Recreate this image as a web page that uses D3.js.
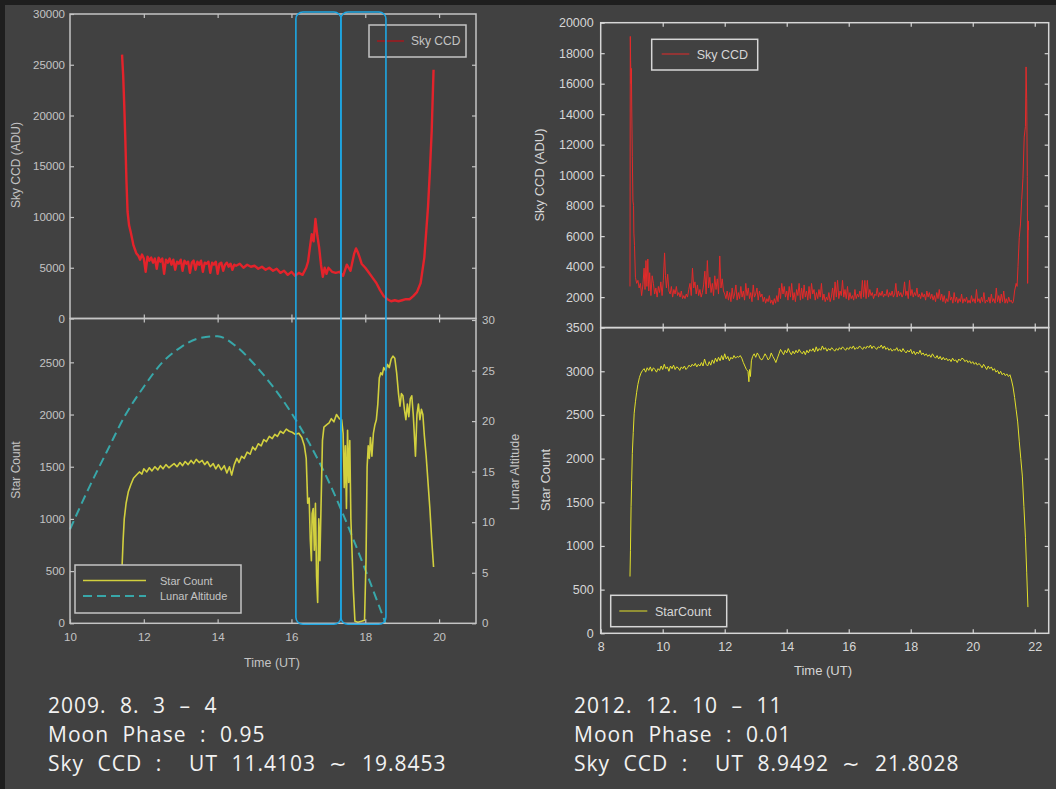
<!DOCTYPE html>
<html><head><meta charset="utf-8">
<script src="https://cdn.jsdelivr.net/npm/d3@7"></script>
<style>html,body{margin:0;padding:0;background:#414141;}svg{display:block;}</style>
</head><body>
<script>
// ---------------- DATA ----------------
// Left chart (2009.8.3-4)
const leftSkyCCD = [[11.41,26000],[11.44,24000],[11.47,21000],[11.50,17500],[11.53,13500],[11.56,10500],[11.60,9200],[11.64,8600],[11.68,7900],[11.72,7200],[11.76,6800],[11.80,6400],[11.85,6200],[11.90,5800],[11.95,6300],[12.00,5900],[12.05,4600],[12.10,6100],[12.15,5700],[12.20,6000],[12.25,5500],[12.30,5900],[12.35,4900],[12.40,6000],[12.45,5600],[12.50,5900],[12.55,4400],[12.60,5800],[12.65,5500],[12.70,5900],[12.75,5300],[12.80,5800],[12.85,4800],[12.90,5600],[12.95,5400],[13.00,5800],[13.05,4700],[13.10,5700],[13.15,5400],[13.20,5600],[13.25,4500],[13.30,5500],[13.35,5700],[13.40,4800],[13.45,5600],[13.50,5300],[13.55,5700],[13.60,4600],[13.65,5500],[13.70,5400],[13.75,5600],[13.80,4500],[13.85,5500],[13.90,5300],[13.95,5600],[14.00,4400],[14.05,5400],[14.10,5500],[14.15,4700],[14.20,5300],[14.25,5500],[14.30,5100],[14.35,5400],[14.40,4800],[14.45,5300],[14.50,5200],[14.60,5400],[14.70,5000],[14.80,5300],[14.90,5100],[15.00,5200],[15.10,4900],[15.20,5100],[15.30,4800],[15.40,5000],[15.50,4700],[15.60,4900],[15.70,4500],[15.80,4700],[15.90,4300],[16.00,4600],[16.10,4200],[16.20,4500],[16.30,4300],[16.40,5000],[16.45,5600],[16.50,7000],[16.55,8300],[16.60,7600],[16.65,9800],[16.70,8200],[16.75,7000],[16.80,5300],[16.85,4100],[16.90,5000],[16.95,4400],[17.00,5000],[17.10,4600],[17.20,4500],[17.30,4600],[17.40,4200],[17.50,5300],[17.60,4700],[17.70,6400],[17.75,6900],[17.80,6500],[17.85,6000],[17.90,5400],[18.00,5000],[18.10,4500],[18.20,4000],[18.30,3500],[18.40,2800],[18.50,2200],[18.60,1900],[18.70,1700],[18.80,1800],[18.90,1700],[19.00,1800],[19.10,1900],[19.20,1900],[19.30,2200],[19.40,2600],[19.50,3500],[19.60,6000],[19.70,11000],[19.75,14500],[19.80,18500],[19.85,24500]];

const leftStarCount = [[11.41,540],[11.44,800],[11.47,1000],[11.52,1150],[11.58,1260],[11.65,1330],[11.72,1390],[11.80,1420],[11.88,1450],[11.95,1430],[12.00,1480],[12.08,1450],[12.15,1490],[12.22,1460],[12.30,1500],[12.38,1470],[12.45,1510],[12.52,1480],[12.60,1520],[12.68,1490],[12.75,1510],[12.82,1530],[12.90,1500],[12.98,1540],[13.05,1510],[13.12,1550],[13.20,1520],[13.28,1560],[13.35,1530],[13.42,1570],[13.50,1540],[13.58,1560],[13.65,1520],[13.72,1550],[13.80,1500],[13.88,1530],[13.95,1480],[14.02,1520],[14.10,1470],[14.18,1510],[14.25,1440],[14.32,1500],[14.38,1420],[14.45,1520],[14.52,1580],[14.58,1540],[14.65,1600],[14.72,1580],[14.80,1640],[14.88,1620],[14.95,1690],[15.02,1660],[15.10,1720],[15.18,1700],[15.25,1760],[15.32,1740],[15.40,1790],[15.48,1770],[15.55,1810],[15.62,1790],[15.70,1840],[15.78,1820],[15.86,1860],[15.94,1840],[16.02,1830],[16.10,1810],[16.20,1820],[16.28,1780],[16.35,1700],[16.40,1580],[16.44,1150],[16.48,1200],[16.51,800],[16.54,600],[16.56,1050],[16.59,1100],[16.62,700],[16.65,1150],[16.68,450],[16.71,200],[16.74,1000],[16.77,600],[16.80,1100],[16.84,1750],[16.88,1880],[16.95,1900],[17.02,1920],[17.08,1960],[17.15,1930],[17.22,2000],[17.30,1960],[17.36,1950],[17.40,1820],[17.43,1300],[17.46,1700],[17.49,1100],[17.52,1850],[17.55,1350],[17.58,1750],[17.61,1000],[17.64,700],[17.68,300],[17.72,20],[17.80,10],[17.90,20],[17.98,30],[18.02,600],[18.05,1500],[18.08,1700],[18.11,1580],[18.14,1780],[18.18,1600],[18.22,1820],[18.26,1900],[18.30,1950],[18.34,2100],[18.38,2350],[18.42,2400],[18.46,2380],[18.50,2450],[18.55,2420],[18.60,2480],[18.65,2450],[18.70,2530],[18.75,2560],[18.80,2540],[18.85,2400],[18.90,2200],[18.94,2080],[18.98,2200],[19.02,2180],[19.06,2050],[19.10,1950],[19.14,2100],[19.18,1980],[19.22,2150],[19.26,2180],[19.30,2000],[19.33,1800],[19.36,1600],[19.40,2000],[19.44,2100],[19.48,1950],[19.52,2050],[19.56,2000],[19.60,1800],[19.65,1600],[19.70,1350],[19.75,1100],[19.80,800],[19.85,540]];

const lunarAltitude = [[10.0,9.3],[10.5,13.3],[11.0,17.0],[11.5,20.6],[12.0,23.4],[12.5,25.8],[13.0,27.3],[13.5,28.2],[14.0,28.4],[14.5,27.4],[15.0,25.6],[15.5,23.4],[16.0,20.8],[16.5,17.7],[17.0,14.1],[17.5,9.9],[18.0,5.3],[18.55,0]];

const highlightWindows = [[16.12,17.34],[17.34,18.56]];

// Right chart (2012.12.10-11)
const rightSkyCCD = [[8.945,2700],[8.955,19100],[8.965,17500],[8.98,16000],[8.99,17000],[9.00,14600],[9.02,11200],[9.04,8300],[9.06,8000],[9.07,6200],[9.09,5400],[9.12,3300],[9.16,2900],[9.20,3100],[9.24,2600],[9.28,2900],[9.32,2100],[9.36,2800],[9.40,3900],[9.43,2500],[9.46,4400],[9.49,2700],[9.52,4500],[9.55,2400],[9.58,3600],[9.62,2100],[9.66,3400],[9.70,2900],[9.74,2200],[9.78,2600],[9.82,2000],[9.86,2700],[9.90,2300],[9.94,3000],[9.98,2100],[10.02,3100],[10.06,4900],[10.09,3400],[10.12,2600],[10.16,3500],[10.20,2400],[10.24,2200],[10.28,2700],[10.32,2000],[10.36,2500],[10.40,2200],[10.44,2700],[10.48,2100],[10.52,2300],[10.56,2000],[10.60,2400],[10.64,1900],[10.68,2100],[10.72,1900],[10.76,2200],[10.80,2000],[10.84,2500],[10.88,2900],[10.92,2100],[10.96,3900],[11.00,2600],[11.04,3000],[11.08,2200],[11.12,2800],[11.16,2100],[11.20,2500],[11.24,2000],[11.28,2300],[11.32,2800],[11.36,3700],[11.40,2200],[11.44,4400],[11.48,2600],[11.52,3300],[11.56,2300],[11.60,2900],[11.64,2100],[11.68,3400],[11.72,2500],[11.76,3200],[11.80,2200],[11.84,4700],[11.88,2600],[11.92,3200],[11.96,2400],[12.00,2200],[12.04,1900],[12.08,2400],[12.12,1800],[12.16,2300],[12.20,1700],[12.24,2600],[12.28,1900],[12.32,2200],[12.36,2800],[12.40,1800],[12.44,2300],[12.48,1900],[12.52,2700],[12.56,2000],[12.60,2400],[12.64,1800],[12.68,2900],[12.72,2100],[12.76,2600],[12.80,1900],[12.84,2300],[12.88,1700],[12.92,2800],[12.96,2000],[13.00,2200],[13.04,2600],[13.08,1800],[13.12,2400],[13.16,2000],[13.20,2200],[13.24,1700],[13.28,2000],[13.32,1600],[13.36,1900],[13.40,1700],[13.44,2100],[13.48,1600],[13.52,1800],[13.56,1500],[13.60,1900],[13.64,1600],[13.68,2100],[13.72,1700],[13.76,2600],[13.80,1900],[13.84,2900],[13.88,2200],[13.92,2700],[13.96,2000],[14.00,2400],[14.04,1800],[14.08,2700],[14.12,2000],[14.16,2900],[14.20,1800],[14.24,2300],[14.28,1700],[14.32,2500],[14.36,2100],[14.40,2900],[14.44,1800],[14.48,2600],[14.52,1900],[14.56,2800],[14.60,2000],[14.64,2400],[14.68,1800],[14.72,2700],[14.76,1900],[14.80,2900],[14.84,2200],[14.88,2500],[14.92,1800],[14.96,2300],[15.00,1900],[15.04,2500],[15.08,2000],[15.12,2900],[15.16,1800],[15.20,2200],[15.24,1700],[15.28,2000],[15.32,1800],[15.36,2300],[15.40,1700],[15.44,2000],[15.48,2600],[15.52,1800],[15.56,3000],[15.60,2000],[15.64,3100],[15.68,1900],[15.72,2400],[15.76,2100],[15.80,3100],[15.84,2000],[15.88,2500],[15.92,1900],[15.96,2700],[16.00,1800],[16.04,2300],[16.08,1900],[16.12,2100],[16.16,1800],[16.20,2500],[16.24,1900],[16.28,2200],[16.32,2000],[16.36,2400],[16.40,1900],[16.44,3100],[16.48,2000],[16.52,3100],[16.56,1900],[16.60,3100],[16.64,2000],[16.68,2500],[16.72,2100],[16.76,2300],[16.80,1900],[16.84,2200],[16.88,2100],[16.92,2600],[16.96,2000],[17.00,2300],[17.04,2100],[17.08,2400],[17.12,2000],[17.16,2200],[17.20,2100],[17.24,2500],[17.28,2000],[17.32,2300],[17.36,2100],[17.40,2400],[17.44,2000],[17.48,2200],[17.52,2900],[17.56,2000],[17.60,2400],[17.64,2100],[17.68,2300],[17.72,2000],[17.76,2200],[17.80,3000],[17.84,2100],[17.88,2400],[17.92,1900],[17.96,3100],[18.00,2100],[18.04,2500],[18.08,2000],[18.12,2300],[18.16,2100],[18.20,2600],[18.24,2000],[18.28,2200],[18.32,1900],[18.36,2300],[18.40,2000],[18.44,2200],[18.48,1800],[18.52,2400],[18.56,2000],[18.60,2300],[18.64,1900],[18.68,2200],[18.72,1800],[18.76,2100],[18.80,1700],[18.84,2300],[18.88,1900],[18.92,2500],[18.96,1800],[19.00,2200],[19.04,1700],[19.08,2100],[19.12,1600],[19.16,1900],[19.20,1700],[19.24,2400],[19.28,1800],[19.32,2000],[19.36,1600],[19.40,2300],[19.44,1700],[19.48,2000],[19.52,1600],[19.56,1900],[19.60,1700],[19.64,2200],[19.68,1600],[19.72,1900],[19.76,1700],[19.80,2000],[19.84,1600],[19.88,1800],[19.92,1600],[19.96,2100],[20.00,1700],[20.04,1900],[20.08,1600],[20.12,2500],[20.16,1700],[20.20,1900],[20.24,1600],[20.28,2000],[20.32,1700],[20.36,2300],[20.40,1600],[20.44,1800],[20.48,1700],[20.52,2000],[20.56,1600],[20.60,2200],[20.64,1700],[20.68,1900],[20.72,1600],[20.76,2600],[20.80,1700],[20.84,2100],[20.88,1600],[20.92,2200],[20.96,1700],[21.00,2400],[21.04,1600],[21.08,1900],[21.12,1600],[21.16,2000],[21.20,1700],[21.24,1800],[21.28,1600],[21.31,1700],[21.35,2400],[21.40,2900],[21.43,2700],[21.46,4000],[21.50,5900],[21.54,6800],[21.58,8400],[21.62,9800],[21.66,12500],[21.70,13200],[21.72,17100],[21.74,15000],[21.76,9900],[21.77,2900],[21.79,7000],[21.80,6400]];

const rightStarCount = [[8.945,650],[8.96,950],[8.98,1450],[9.00,1750],[9.02,2060],[9.05,2300],[9.08,2520],[9.12,2650],[9.16,2760],[9.20,2850],[9.25,2930],[9.30,2980],[9.35,3010],[9.40,3030],[9.45,2990],[9.50,3040],[9.55,3010],[9.60,3050],[9.65,3000],[9.70,3040],[9.75,3020],[9.80,2990],[9.85,3030],[9.90,3010],[9.95,3060],[10.00,3020],[10.05,3080],[10.10,3030],[10.15,3050],[10.20,3000],[10.25,3060],[10.30,3030],[10.35,3070],[10.40,3020],[10.45,3050],[10.50,3040],[10.55,3010],[10.60,3050],[10.65,3030],[10.70,3060],[10.75,3020],[10.80,3040],[10.85,3070],[10.90,3050],[10.95,3080],[11.00,3060],[11.05,3090],[11.10,3050],[11.15,3080],[11.20,3060],[11.25,3100],[11.30,3060],[11.35,3140],[11.40,3080],[11.45,3060],[11.50,3110],[11.55,3070],[11.60,3130],[11.65,3090],[11.70,3150],[11.75,3110],[11.80,3160],[11.85,3120],[11.90,3180],[11.95,3130],[12.00,3200],[12.05,3140],[12.10,3170],[12.15,3120],[12.20,3160],[12.25,3140],[12.30,3180],[12.35,3150],[12.40,3170],[12.45,3160],[12.50,3180],[12.55,3150],[12.60,3100],[12.65,3060],[12.70,3020],[12.75,3000],[12.78,2880],[12.80,3020],[12.83,2940],[12.86,3120],[12.90,3170],[12.95,3200],[13.00,3160],[13.05,3210],[13.10,3180],[13.15,3140],[13.20,3130],[13.25,3160],[13.30,3200],[13.35,3170],[13.40,3130],[13.45,3150],[13.50,3210],[13.55,3170],[13.60,3140],[13.65,3100],[13.70,3150],[13.75,3200],[13.80,3250],[13.85,3220],[13.90,3190],[13.95,3240],[14.00,3210],[14.05,3260],[14.10,3220],[14.15,3190],[14.20,3230],[14.25,3200],[14.30,3240],[14.35,3210],[14.40,3250],[14.45,3220],[14.50,3200],[14.55,3230],[14.60,3190],[14.65,3240],[14.70,3210],[14.75,3250],[14.80,3230],[14.85,3260],[14.90,3220],[14.95,3280],[15.00,3230],[15.05,3260],[15.10,3240],[15.15,3290],[15.20,3250],[15.25,3270],[15.30,3230],[15.35,3260],[15.40,3240],[15.45,3270],[15.50,3250],[15.55,3230],[15.60,3260],[15.65,3240],[15.70,3270],[15.75,3250],[15.80,3280],[15.85,3260],[15.90,3240],[15.95,3270],[16.00,3250],[16.05,3280],[16.10,3260],[16.15,3290],[16.20,3250],[16.25,3270],[16.30,3260],[16.35,3290],[16.40,3270],[16.45,3250],[16.50,3280],[16.55,3260],[16.60,3290],[16.65,3270],[16.70,3300],[16.75,3260],[16.80,3290],[16.85,3270],[16.90,3250],[16.95,3280],[17.00,3270],[17.05,3300],[17.10,3260],[17.15,3290],[17.20,3250],[17.25,3270],[17.30,3240],[17.35,3260],[17.40,3230],[17.45,3250],[17.50,3240],[17.55,3270],[17.60,3230],[17.65,3250],[17.70,3220],[17.75,3260],[17.80,3230],[17.85,3210],[17.90,3240],[17.95,3220],[18.00,3250],[18.05,3200],[18.10,3230],[18.15,3190],[18.20,3220],[18.25,3200],[18.30,3240],[18.35,3190],[18.40,3210],[18.45,3180],[18.50,3200],[18.55,3170],[18.60,3190],[18.65,3160],[18.70,3200],[18.75,3170],[18.80,3150],[18.85,3180],[18.90,3140],[18.95,3170],[19.00,3130],[19.05,3160],[19.10,3130],[19.15,3150],[19.20,3120],[19.25,3140],[19.30,3110],[19.35,3150],[19.40,3120],[19.45,3130],[19.50,3100],[19.55,3140],[19.60,3120],[19.65,3150],[19.70,3140],[19.75,3110],[19.80,3130],[19.85,3100],[19.90,3120],[19.95,3090],[20.00,3110],[20.05,3080],[20.10,3100],[20.15,3070],[20.20,3090],[20.25,3070],[20.30,3040],[20.35,3080],[20.40,3050],[20.45,3020],[20.50,3060],[20.55,3030],[20.60,3050],[20.65,3010],[20.70,3030],[20.75,2990],[20.80,3010],[20.85,2970],[20.90,3000],[20.95,2960],[21.00,2980],[21.05,2950],[21.10,2970],[21.15,2940],[21.20,2960],[21.25,2900],[21.30,2820],[21.35,2700],[21.40,2560],[21.45,2420],[21.50,2200],[21.55,2000],[21.60,1800],[21.65,1450],[21.70,1100],[21.74,700],[21.78,300]];

// Tick values
const leftXTicks = [10,12,14,16,18,20];
const leftSkyTicks = [0,5000,10000,15000,20000,25000,30000];
const leftStarTicks = [0,500,1000,1500,2000,2500];
const lunarTicks = [0,5,10,15,20,25,30];
const rightXTicks = [8,10,12,14,16,18,20,22];
const rightSkyTicks = [2000,4000,6000,8000,10000,12000,14000,16000,18000,20000];
const rightStarTicks = [0,500,1000,1500,2000,2500,3000,3500];

// Captions
const leftCaption = ["2009. 8. 3 \u2013 4", "Moon Phase : 0.95", "Sky CCD :  UT 11.4103 \u223C 19.8453"];
const rightCaption = ["2012. 12. 10 \u2013 11", "Moon Phase : 0.01", "Sky CCD :  UT 8.9492 \u223C 21.8028"];

// ---------------- DRAW ----------------
const W = 1056, H = 789;
const svg = d3.select("body").append("svg").attr("width", W).attr("height", H);
svg.append("rect").attr("width", W).attr("height", H).attr("fill", "#414141");
svg.append("rect").attr("width", W).attr("height", 5).attr("fill", "#1e1e1e");
svg.append("rect").attr("width", 5).attr("height", H).attr("fill", "#1e1e1e");

const FONT = "'Liberation Sans', Arial, sans-serif";

function styleAxis(g, color, size) {
  g.select(".domain").remove();
  g.attr("font-family", FONT).attr("font-size", size);
  g.selectAll("line").attr("stroke", color).attr("stroke-width", 1.2);
  g.selectAll("text").attr("fill", color);
}

function panelFrame(x0, x1, y0, y1, color, sw) {
  svg.append("rect").attr("x", x0).attr("y", y0).attr("width", x1 - x0).attr("height", y1 - y0)
    .attr("fill", "none").attr("stroke", color).attr("stroke-width", sw);
}

// ===== LEFT CHART =====
const L = {x0: 70, x1: 476, yTop: 14, yMid: 318.5, yBot: 623.3};
const LC = "#c4c4c4";
const xL = d3.scaleLinear().domain([10, 21]).range([L.x0, L.x1]);
const yLSky = d3.scaleLinear().domain([0, 30000]).range([L.yMid, L.yTop]);
const yLStar = d3.scaleLinear().domain([0, 2920]).range([L.yBot, L.yMid]);
const yLun = d3.scaleLinear().domain([0, 30]).range([L.yBot, L.yMid + 1.5]);

// lines
svg.append("path").datum(leftSkyCCD)
  .attr("d", d3.line().x(d => xL(d[0])).y(d => yLSky(d[1])))
  .attr("fill", "none").attr("stroke", "#e3232b").attr("stroke-width", 2.4).attr("stroke-linejoin", "round");

svg.append("path").datum(lunarAltitude)
  .attr("d", d3.line().curve(d3.curveMonotoneX).x(d => xL(d[0])).y(d => yLun(d[1])))
  .attr("fill", "none").attr("stroke", "#38a7a9").attr("stroke-width", 2).attr("stroke-dasharray", "9,5");

svg.append("path").datum(leftStarCount)
  .attr("d", d3.line().x(d => xL(d[0])).y(d => yLStar(d[1])))
  .attr("fill", "none").attr("stroke", "#d2d03e").attr("stroke-width", 1.6).attr("stroke-linejoin", "round");

// frames
panelFrame(L.x0, L.x1, L.yTop, L.yMid, LC, 1.5);
panelFrame(L.x0, L.x1, L.yMid, L.yBot, LC, 1.5);

// axes top panel
styleAxis(svg.append("g").attr("transform", `translate(${L.x0},0)`)
  .call(d3.axisLeft(yLSky).tickValues(leftSkyTicks).tickSize(-4).tickPadding(5).tickFormat(d3.format("d"))), LC, 11.5);
styleAxis(svg.append("g").attr("transform", `translate(${L.x1},0)`)
  .call(d3.axisRight(yLSky).tickValues(leftSkyTicks.slice(1, -1)).tickSize(-4).tickFormat("")), LC, 11);
styleAxis(svg.append("g").attr("transform", `translate(0,${L.yTop})`)
  .call(d3.axisTop(xL).tickValues(leftXTicks.slice(1)).tickSize(-4).tickFormat("")), LC, 11);
styleAxis(svg.append("g").attr("transform", `translate(0,${L.yMid})`)
  .call(d3.axisBottom(xL).tickValues(leftXTicks.slice(1)).tickSize(-4).tickFormat("")), LC, 11);
// axes bottom panel
styleAxis(svg.append("g").attr("transform", `translate(${L.x0},0)`)
  .call(d3.axisLeft(yLStar).tickValues(leftStarTicks).tickSize(-4).tickPadding(5).tickFormat(d3.format("d"))), LC, 11.5);
styleAxis(svg.append("g").attr("transform", `translate(${L.x1},0)`)
  .call(d3.axisRight(yLun).tickValues(lunarTicks).tickSize(-4).tickPadding(6)), LC, 11.5);
styleAxis(svg.append("g").attr("transform", `translate(0,${L.yBot})`)
  .call(d3.axisBottom(xL).tickValues(leftXTicks).tickSize(-4).tickPadding(10)), LC, 11.5);
styleAxis(svg.append("g").attr("transform", `translate(0,${L.yMid})`)
  .call(d3.axisTop(xL).tickValues(leftXTicks.slice(1)).tickSize(-4).tickFormat("")), LC, 11);

// axis titles
function vLabel(x, y, text, size, color) {
  svg.append("text").attr("transform", `translate(${x},${y}) rotate(-90)`)
    .attr("text-anchor", "middle").attr("font-family", FONT).attr("font-size", size)
    .attr("fill", color).text(text);
}
vLabel(20, 165, "Sky CCD (ADU)", 12, LC);
vLabel(20, 470, "Star Count", 12, LC);
vLabel(519, 472, "Lunar Altitude", 12.5, LC);
svg.append("text").attr("x", 272).attr("y", 667).attr("text-anchor", "middle")
  .attr("font-family", FONT).attr("font-size", 12.5).attr("fill", LC).text("Time (UT)");

// legends
svg.append("rect").attr("x", 369).attr("y", 25).attr("width", 97).attr("height", 32)
  .attr("fill", "#414141").attr("stroke", LC).attr("stroke-width", 1.5);
svg.append("line").attr("x1", 377).attr("x2", 404).attr("y1", 41).attr("y2", 41)
  .attr("stroke", "#8a2226").attr("stroke-width", 2);
svg.append("text").attr("x", 411).attr("y", 45).attr("font-family", FONT).attr("font-size", 12)
  .attr("fill", LC).text("Sky CCD");

svg.append("rect").attr("x", 75).attr("y", 565).attr("width", 166).attr("height", 48)
  .attr("fill", "#414141").attr("stroke", LC).attr("stroke-width", 1.5);
svg.append("line").attr("x1", 83).attr("x2", 146).attr("y1", 580.5).attr("y2", 580.5)
  .attr("stroke", "#d2d03e").attr("stroke-width", 1.5);
svg.append("line").attr("x1", 83).attr("x2", 146).attr("y1", 596).attr("y2", 596)
  .attr("stroke", "#38a7a9").attr("stroke-width", 2).attr("stroke-dasharray", "9,5");
svg.append("text").attr("x", 160).attr("y", 584.5).attr("font-family", FONT).attr("font-size", 11)
  .attr("fill", LC).text("Star Count");
svg.append("text").attr("x", 160).attr("y", 600).attr("font-family", FONT).attr("font-size", 11)
  .attr("fill", LC).text("Lunar Altitude");

// highlight windows
svg.selectAll("rect.win").data(highlightWindows).enter().append("rect").attr("class", "win")
  .attr("x", d => xL(d[0])).attr("width", d => xL(d[1]) - xL(d[0]))
  .attr("y", L.yTop - 2).attr("height", L.yBot - L.yTop + 3)
  .attr("rx", 7).attr("ry", 7)
  .attr("fill", "none").attr("stroke", "#1ea6e2").attr("stroke-width", 1.6);

// ===== RIGHT CHART =====
const R = {x0: 600.7, x1: 1048.7, yTop: 22.7, yMid: 327.6, yBot: 633.3};
const RC = "#d6d6d6";
const xR = d3.scaleLinear().domain([8, 22.45]).range([R.x0, R.x1]);
const yRSky = d3.scaleLinear().domain([0, 20000]).range([R.yMid, R.yTop]);
const yRStar = d3.scaleLinear().domain([0, 3500]).range([R.yBot, R.yMid]);

svg.append("path").datum(rightSkyCCD)
  .attr("d", d3.line().x(d => xR(d[0])).y(d => yRSky(d[1])))
  .attr("fill", "none").attr("stroke", "#e42a2a").attr("stroke-width", 1);
svg.append("path").datum(rightStarCount)
  .attr("d", d3.line().x(d => xR(d[0])).y(d => yRStar(d[1])))
  .attr("fill", "none").attr("stroke", "#e2e02a").attr("stroke-width", 1);

panelFrame(R.x0, R.x1, R.yTop, R.yMid, RC, 1.5);
panelFrame(R.x0, R.x1, R.yMid, R.yBot, RC, 1.5);

styleAxis(svg.append("g").attr("transform", `translate(${R.x0},0)`)
  .call(d3.axisLeft(yRSky).tickValues(rightSkyTicks).tickSize(-4).tickPadding(7).tickFormat(d3.format("d"))), RC, 12.5);
styleAxis(svg.append("g").attr("transform", `translate(${R.x1},0)`)
  .call(d3.axisRight(yRSky).tickValues(rightSkyTicks.slice(0, -1)).tickSize(-4).tickFormat("")), RC, 12);
styleAxis(svg.append("g").attr("transform", `translate(0,${R.yTop})`)
  .call(d3.axisTop(xR).tickValues(rightXTicks.slice(1)).tickSize(-4).tickFormat("")), RC, 12);
styleAxis(svg.append("g").attr("transform", `translate(0,${R.yMid})`)
  .call(d3.axisBottom(xR).tickValues(rightXTicks.slice(1)).tickSize(-4).tickFormat("")), RC, 12);

styleAxis(svg.append("g").attr("transform", `translate(${R.x0},0)`)
  .call(d3.axisLeft(yRStar).tickValues(rightStarTicks).tickSize(-4).tickPadding(7).tickFormat(d3.format("d"))), RC, 12.5);
styleAxis(svg.append("g").attr("transform", `translate(${R.x1},0)`)
  .call(d3.axisRight(yRStar).tickValues(rightStarTicks.slice(1, -1)).tickSize(-4).tickFormat("")), RC, 12);
styleAxis(svg.append("g").attr("transform", `translate(0,${R.yBot})`)
  .call(d3.axisBottom(xR).tickValues(rightXTicks).tickSize(-4).tickPadding(9)), RC, 12.5);
styleAxis(svg.append("g").attr("transform", `translate(0,${R.yMid})`)
  .call(d3.axisTop(xR).tickValues(rightXTicks.slice(1)).tickSize(-4).tickFormat("")), RC, 12);

vLabel(544, 175, "Sky CCD (ADU)", 13, RC);
vLabel(550, 480, "Star Count", 13, RC);
svg.append("text").attr("x", 823).attr("y", 675).attr("text-anchor", "middle")
  .attr("font-family", FONT).attr("font-size", 13).attr("fill", RC).text("Time (UT)");

svg.append("rect").attr("x", 651.7).attr("y", 39.3).attr("width", 106).attr("height", 30.7)
  .attr("fill", "#414141").attr("stroke", RC).attr("stroke-width", 1.5);
svg.append("line").attr("x1", 661.7).attr("x2", 689.3).attr("y1", 54).attr("y2", 54)
  .attr("stroke", "#e42a2a").attr("stroke-width", 1);
svg.append("text").attr("x", 696.7).attr("y", 58.5).attr("font-family", FONT).attr("font-size", 12.5)
  .attr("fill", RC).text("Sky CCD");

svg.append("rect").attr("x", 610.7).attr("y", 595.3).attr("width", 116).attr("height", 31.4)
  .attr("fill", "#414141").attr("stroke", RC).attr("stroke-width", 1.5);
svg.append("line").attr("x1", 619.3).attr("x2", 647.3).attr("y1", 611).attr("y2", 611)
  .attr("stroke", "#e2e02a").attr("stroke-width", 1);
svg.append("text").attr("x", 655).attr("y", 615.5).attr("font-family", FONT).attr("font-size", 12.5)
  .attr("fill", RC).text("StarCount");

// ===== CAPTIONS =====
function caption(lines, x) {
  svg.append("g").selectAll("text").data(lines).enter().append("text")
    .attr("x", x).attr("y", (d, i) => [713, 742, 771][i])
    .attr("font-family", "'Open Sans', 'Noto Sans', sans-serif").attr("font-size", 21)
    .attr("letter-spacing", 1).attr("word-spacing", 7).style("white-space", "pre")
    .attr("fill", "#f2f2f2").text(d => d);
}
caption(leftCaption, 48);
caption(rightCaption, 574);
</script>
</body></html>
